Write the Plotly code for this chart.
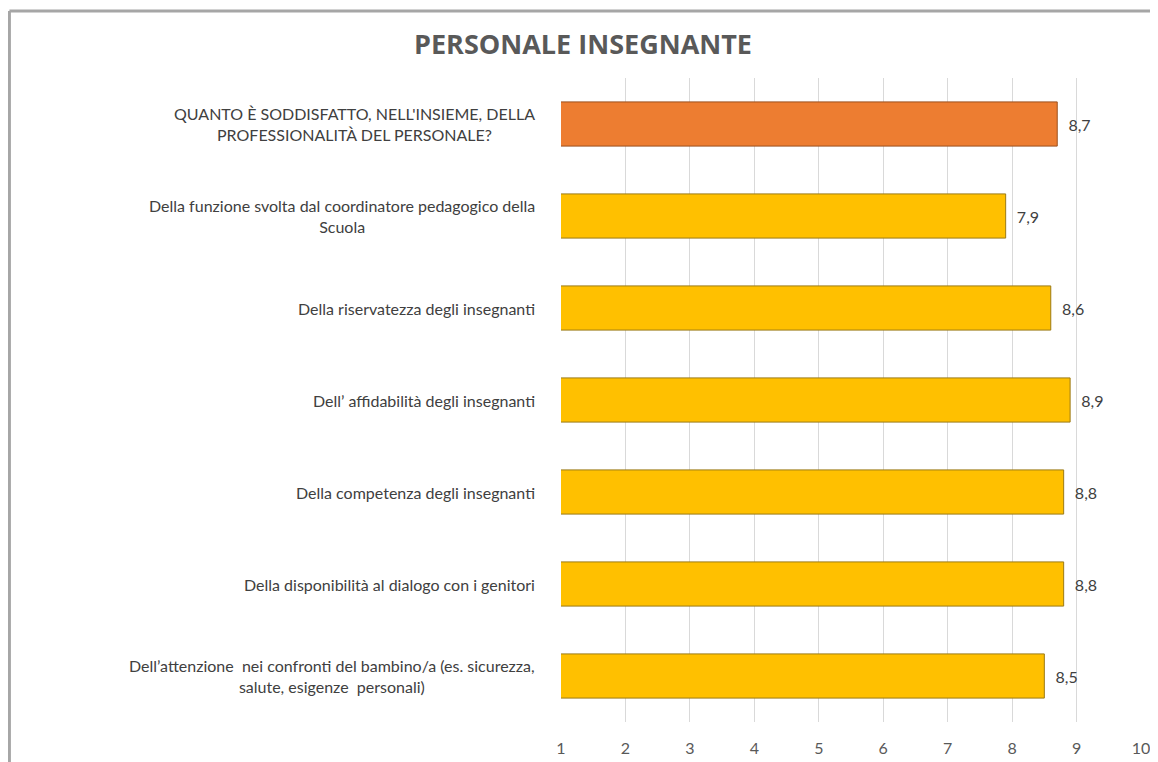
import plotly.graph_objects as go

# data (top to bottom as in the chart)
categories = [
    "QUANTO È SODDISFATTO, NELL'INSIEME, DELLA<br>PROFESSIONALITÀ DEL PERSONALE?",
    "Della funzione svolta dal coordinatore pedagogico della<br>Scuola",
    "Della riservatezza degli insegnanti",
    "Dell’ affidabilità degli insegnanti",
    "Della competenza degli insegnanti",
    "Della disponibilità al dialogo con i genitori",
    "Dell’attenzione  nei confronti del bambino/a (es. sicurezza,<br>salute, esigenze  personali)",
]
scores = [8.7, 7.9, 8.6, 8.9, 8.8, 8.8, 8.5]
bar_colors = ["#ED7D31"] + ["#FFC000"] * 6
line_colors = ["#9c4f1c"] + ["#9c7a14"] * 6
x_ticks = list(range(1, 11))

FONT = "Lato"
TEXT = "#404040"

fig = go.Figure(
    go.Bar(
        y=categories,
        x=scores,
        orientation="h",
        marker=dict(color=bar_colors, line=dict(color=line_colors, width=1)),
        texttemplate="  %{x:.1f}",
        textposition="outside",
        textfont=dict(family=FONT, size=16, color=TEXT),
        cliponaxis=False,
    )
)

# category labels as centred multi-line text, right-anchored next to the axis
for cat in categories:
    fig.add_annotation(
        x=0, xref="paper", y=cat, yref="y",
        text=cat, showarrow=False,
        xanchor="right", align="center", xshift=-24,
        font=dict(family=FONT, size=16, color=TEXT),
    )

# grey frame (only left and top edges are visible in the original)
fig.add_shape(type="line", xref="paper", yref="paper",
              x0=-0.951, x1=-0.951, y0=1.104, y1=-0.2,
              line=dict(color="#a6a6a6", width=3))
fig.add_shape(type="line", xref="paper", yref="paper",
              x0=-0.951, x1=1.2, y0=1.104, y1=1.104,
              line=dict(color="#a6a6a6", width=3))

fig.update_layout(
    width=1150, height=754,
    margin=dict(l=553, r=17, t=70, b=40),
    paper_bgcolor="white", plot_bgcolor="white",
    separators=",.",
    showlegend=False,
    bargap=0.52,
    title=dict(text="<b>PERSONALE INSEGNANTE</b>", x=0.5, xanchor="center",
               y=1 - 37 / 754, yanchor="middle",
               font=dict(family="Open Sans", size=27, color="#595959")),
    xaxis=dict(range=[1, 10], tickvals=x_ticks, showgrid=True,
               gridcolor="#d9d9d9", gridwidth=1, zeroline=False,
               showline=False, ticks="", ticklabelstandoff=15,
               automargin=False,
               tickfont=dict(family=FONT, size=16, color="#595959")),
    yaxis=dict(autorange="reversed", showticklabels=False, showgrid=False,
               showline=False, ticks="", automargin=False),
)

fig.write_html("out.html")
